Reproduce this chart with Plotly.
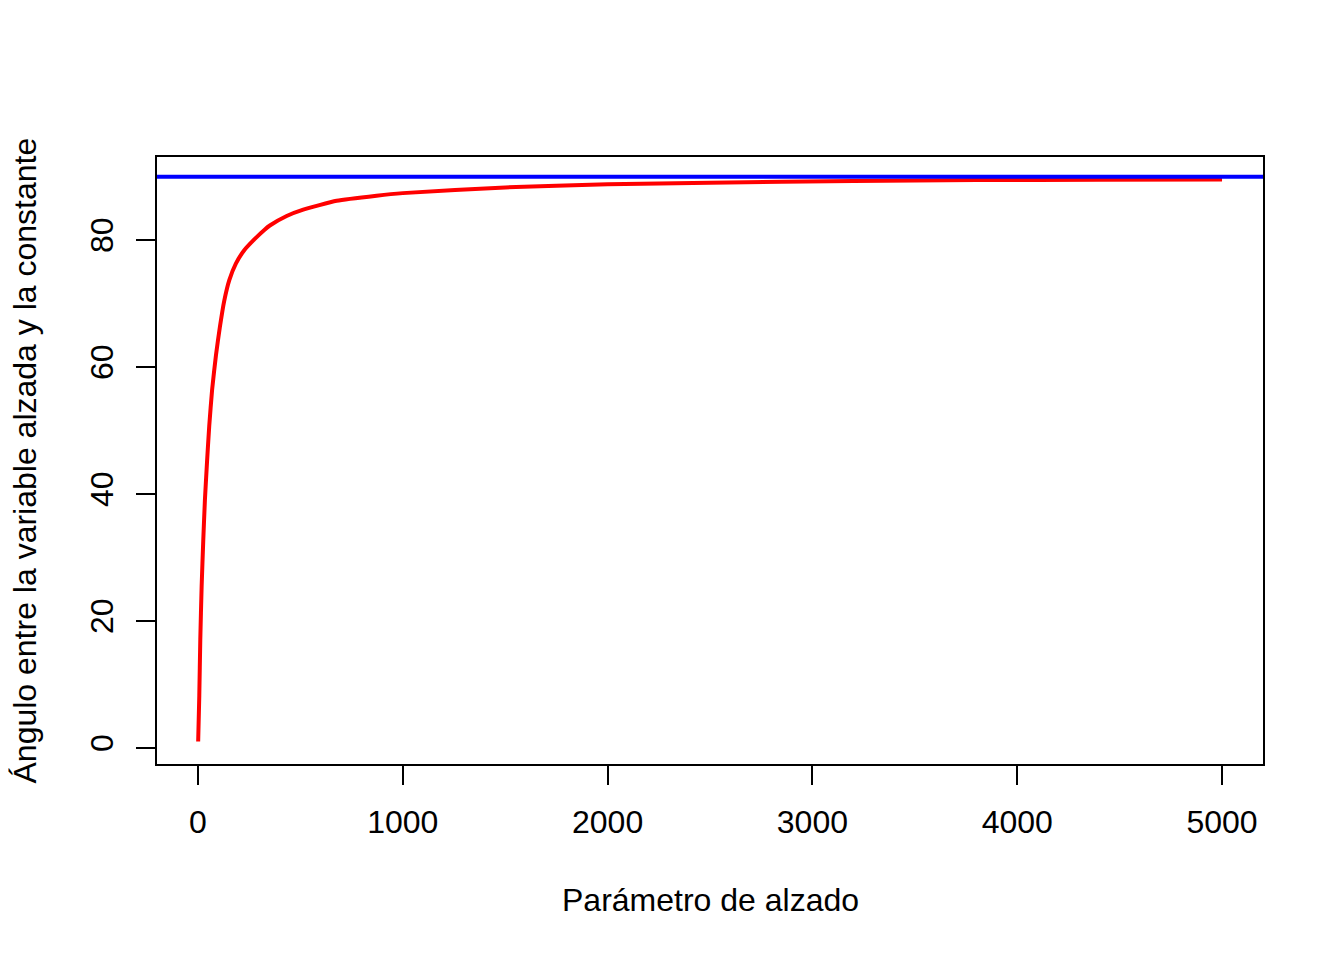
import plotly.graph_objects as go

# Data
x_param = [1, 6.5, 11.4, 18, 26, 34, 44, 55, 69, 88, 107, 128, 153, 185, 226,
           275, 324, 351, 433, 514, 677, 872, 1000, 1500, 2000, 2500, 3200,
           3800, 4400, 5000]
angle_deg = [1.0, 8.2, 17.1, 25.5, 32.8, 39.1, 44.9, 50.7, 56.4, 61.9, 66.3,
             70.4, 73.7, 76.3, 78.4, 80.1, 81.6, 82.3, 83.8, 84.8, 86.2, 87.0,
             87.4, 88.3, 88.8, 89.05, 89.3, 89.45, 89.5, 89.55]
ref_angle = 90
x_ticks = [0, 1000, 2000, 3000, 4000, 5000]
y_ticks = [0, 20, 40, 60, 80]
x_title = "Parámetro de alzado"
y_title = "Ángulo entre la variable alzada y la constante"

FONT = "Liberation Sans, Arial, sans-serif"
FS = 32

xmin, xmax = 0, 5000
ymin, ymax = min(angle_deg), max(angle_deg)
xpad = 0.04 * (xmax - xmin)
ypad = 0.04 * (ymax - ymin)

fig = go.Figure()
fig.add_trace(go.Scatter(x=x_param, y=angle_deg, mode="lines",
                         line=dict(color="#ff0000", width=4, shape="spline", smoothing=0.5),
                         showlegend=False, hoverinfo="skip"))

fig.add_shape(type="line", xref="paper", yref="y", x0=0, x1=1,
              y0=ref_angle, y1=ref_angle, line=dict(color="#0000ff", width=4),
              layer="above")

axis_common = dict(showgrid=False, zeroline=False, showline=True, mirror=True,
                   linecolor="black", linewidth=2, ticks="outside", ticklen=19,
                   tickwidth=2, tickcolor="black",
                   tickfont=dict(family=FONT, size=FS, color="black"))

fig.update_xaxes(range=[xmin - xpad, xmax + xpad], tickvals=x_ticks,
                 ticktext=[str(v) for v in x_ticks], ticklabelstandoff=10,
                 **axis_common)
fig.update_yaxes(range=[ymin - ypad, ymax + ypad], tickvals=y_ticks,
                 ticktext=[str(v) for v in y_ticks], tickangle=-90,
                 ticklabelstandoff=10, **axis_common)

fig.add_annotation(text=x_title, xref="paper", yref="paper", x=0.5, y=0,
                   xanchor="center", yanchor="middle", yshift=-136,
                   showarrow=False, font=dict(family=FONT, size=FS, color="black"))
fig.add_annotation(text=y_title, xref="paper", yref="paper", x=0, y=0.5,
                   xanchor="center", yanchor="middle", xshift=-133, textangle=-90,
                   showarrow=False, font=dict(family=FONT, size=FS, color="black"))

fig.update_layout(width=1344, height=960, paper_bgcolor="white", plot_bgcolor="white",
                  margin=dict(l=149, r=89, t=149, b=204), showlegend=False)

fig.write_html("out.html")
